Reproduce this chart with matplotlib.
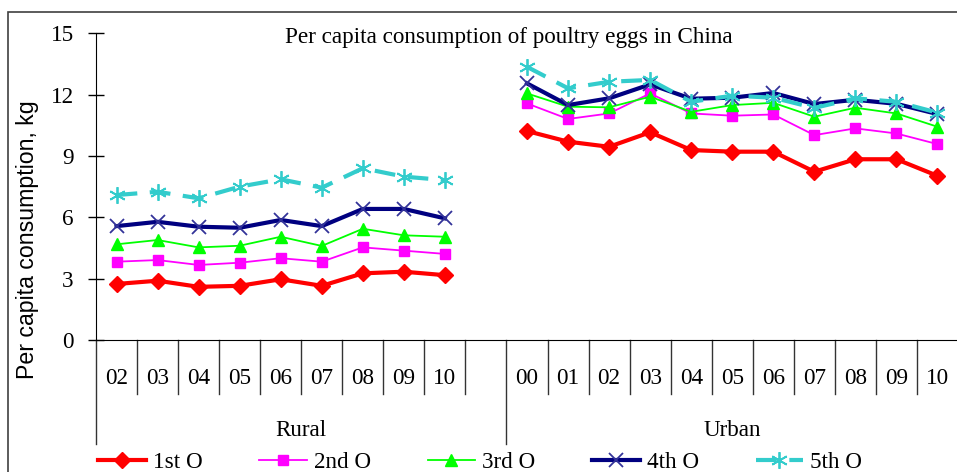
import matplotlib.pyplot as plt
from matplotlib.patches import Rectangle
import matplotlib.transforms as mtransforms

# Category labels (blank slot separates the two groups)
rural_years = ["02", "03", "04", "05", "06", "07", "08", "09", "10"]
urban_years = ["00", "01", "02", "03", "04", "05", "06", "07", "08", "09", "10"]
groups = ["Rural", "Urban"]

# Per capita consumption, kg
rural_q1 = [2.74, 2.90, 2.60, 2.65, 2.97, 2.65, 3.26, 3.34, 3.17]
rural_q2 = [3.83, 3.91, 3.67, 3.78, 4.00, 3.83, 4.53, 4.37, 4.21]
rural_q3 = [4.68, 4.89, 4.53, 4.61, 5.05, 4.60, 5.44, 5.12, 5.05]
rural_q4 = [5.57, 5.78, 5.54, 5.49, 5.87, 5.57, 6.41, 6.41, 5.95]
rural_q5 = [7.09, 7.25, 6.93, 7.50, 7.86, 7.45, 8.40, 7.99, 7.82]

urban_q1 = [10.22, 9.70, 9.45, 10.16, 9.29, 9.21, 9.21, 8.23, 8.84, 8.84, 8.03]
urban_q2 = [11.57, 10.81, 11.08, 12.06, 11.08, 10.97, 11.03, 10.02, 10.35, 10.10, 9.58]
urban_q3 = [12.06, 11.41, 11.38, 11.90, 11.16, 11.49, 11.60, 10.92, 11.36, 11.08, 10.43]
urban_q4 = [12.55, 11.49, 11.82, 12.50, 11.80, 11.85, 12.08, 11.54, 11.75, 11.55, 11.05]
urban_q5 = [13.36, 12.31, 12.63, 12.72, 11.65, 11.95, 11.85, 11.35, 11.82, 11.65, 11.12]

series_names = ["1st O", "2nd O", "3rd O", "4th O", "5th O"]

plt.rcParams['font.family'] = 'Liberation Serif'
FS = 16.7

fig = plt.figure(figsize=(9.57, 4.72), dpi=100)
W, H = 957, 472
ax_left, ax_right = 96, 958
ax_top, ax_bot = 33.3, 340
ax = fig.add_axes([ax_left / W, 1 - ax_bot / H, (ax_right - ax_left) / W, (ax_bot - ax_top) / H])

# outer frame of the picture
fig.patches.append(Rectangle((8 / W, -0.1), 1.2, 1 - 12 / H + 0.1, transform=fig.transFigure,
                             fill=False, edgecolor='#404040', linewidth=1.2))

n_r = len(rural_years)
x_r = list(range(n_r))
x_u = [n_r + 1 + i for i in range(len(urban_years))]

styles = [
    dict(color='#FF0000', lw=3, marker='D', ms=8.5, mec='#FF0000', mfc='#FF0000'),
    dict(color='#FF00FF', lw=1.3, marker='s', ms=7, mec='#FF00FF', mfc='#FF00FF'),
    dict(color='#00FF00', lw=1.3, marker='^', ms=8, mec='#00FF00', mfc='#00FF00'),
    dict(color='#000080', lw=3, marker='x', ms=10, mec='#333399', mew=1.3),
    dict(color='#33CCCC', lw=3, marker=(6, 2, 0), ms=12, mec='#33CCCC', mew=1.3,
         linestyle=(0, (5, 3))),
]
rural = [rural_q1, rural_q2, rural_q3, rural_q4, rural_q5]
urban = [urban_q1, urban_q2, urban_q3, urban_q4, urban_q5]

for name, st, r, u in zip(series_names, styles, rural, urban):
    ax.plot(x_r, r, label=name, **st)
    ax.plot(x_u, u, **st)

ax.set_xlim(-0.5, n_r + len(urban_years) + 0.5)
ax.set_ylim(0, 15)
ax.set_yticks([0, 3, 6, 9, 12, 15])
ax.tick_params(axis='y', direction='inout', length=12, width=1, labelsize=FS, pad=10)
ax.set_xticks([])
for s in ['top', 'right']:
    ax.spines[s].set_visible(False)
ax.spines['left'].set_bounds(0, 15)

# category labels and divider lines below the axis
trans = mtransforms.blended_transform_factory(ax.transData, ax.transAxes)
ah = ax_bot - ax_top
short_y = -(394 - ax_bot) / ah
long_y = -(444 - ax_bot) / ah
lab_y = -(378 - ax_bot) / ah
grp_y = -(430 - ax_bot) / ah
for xs, labels in [(x_r, rural_years), (x_u, urban_years)]:
    for x, lab in zip(xs, labels):
        ax.text(x, lab_y, lab, transform=trans, ha='center', va='center', fontsize=FS)
edges = [x - 0.5 for x in x_r] + [n_r - 0.5] + [x - 0.5 for x in x_u]
for e in edges:
    bottom = long_y if e in (-0.5, n_r + 0.5) else short_y
    ax.plot([e, e], [0, bottom], transform=trans, color='#333333', lw=1, clip_on=False)
ax.text((-0.5 + n_r + 0.5) / 2, grp_y, groups[0], transform=trans, ha='center', va='center', fontsize=FS)
ax.text((n_r + 0.5 + n_r + len(urban_years) + 0.5) / 2, grp_y, groups[1], transform=trans,
        ha='center', va='center', fontsize=FS)

fig.text(509 / W, 1 - 37 / H, "Per capita consumption of poultry eggs in China",
         ha='center', va='center', fontsize=FS)
fig.text(28 / W, 1 - 240 / H, "Per capita consumption, kg", rotation=90,
         ha='center', va='center', fontsize=FS, family='Liberation Sans')

fig.legend(loc='center left', bbox_to_anchor=(98 / W, 1 - 462 / H), ncol=5, frameon=False,
           fontsize=FS, handlelength=2.05, handletextpad=0.3, columnspacing=2.45,
           borderpad=0, borderaxespad=0)

fig.savefig("out.png", dpi=100)
